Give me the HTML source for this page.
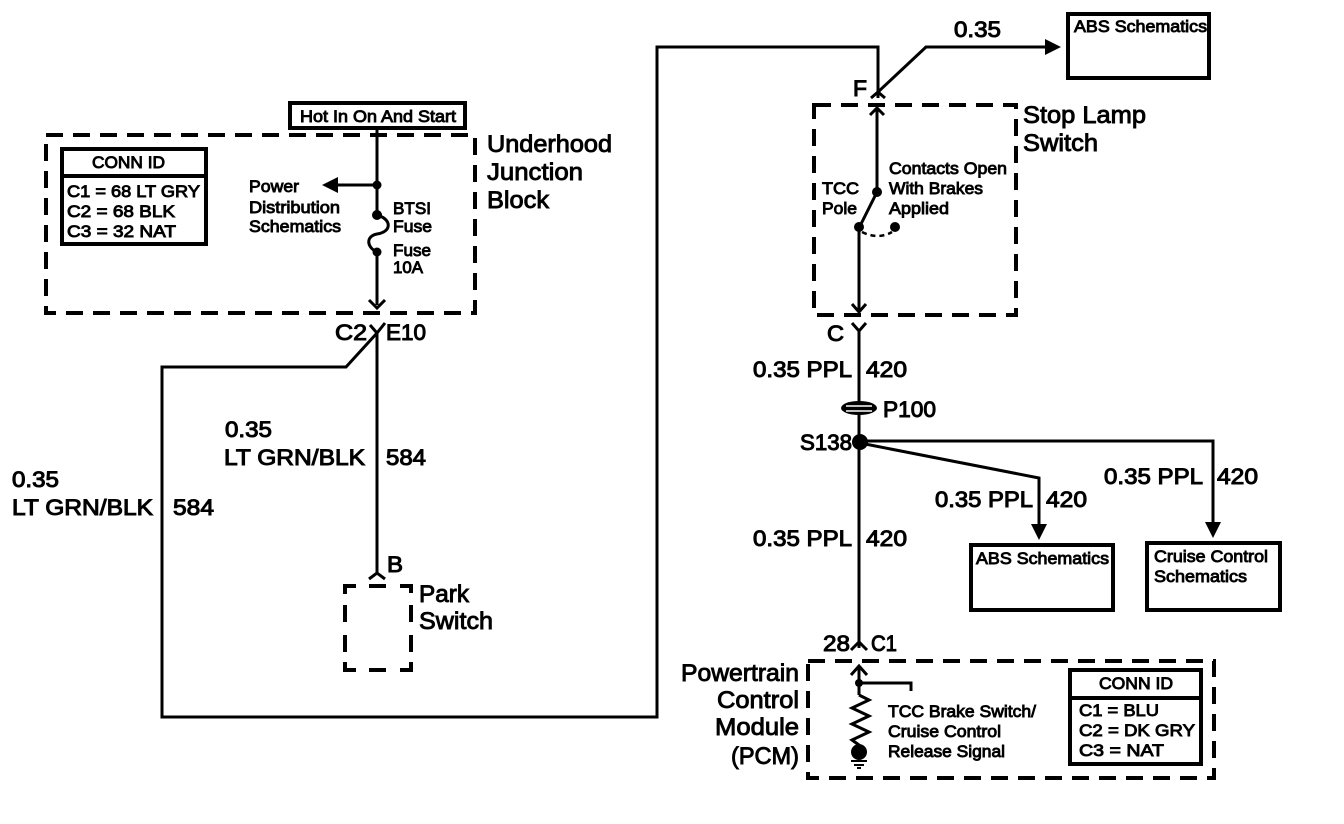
<!DOCTYPE html>
<html><head><meta charset="utf-8"><style>
html,body{margin:0;padding:0;background:#fff}
svg{display:block}
text{font-family:"Liberation Sans",sans-serif;fill:#000;stroke:#000}
.l{font-size:24px;stroke-width:.9px}
.m{font-size:22px;stroke-width:1px}
.s{font-size:17px;stroke-width:.9px}
.w{fill:none;stroke:#000;stroke-width:3}
.b{fill:none;stroke:#000;stroke-width:4}
.d{fill:none;stroke:#000;stroke-width:4;stroke-dasharray:17 10}
.a{fill:#000;stroke:none}
</style></head><body>
<svg width="1344" height="824" viewBox="0 0 1344 824" xmlns="http://www.w3.org/2000/svg">
<!-- dashed boxes -->
<rect class="d" x="46" y="135" width="429" height="178"/>
<rect class="d" x="814" y="105" width="202" height="210"/>
<rect class="d" x="808" y="661" width="406" height="117"/>
<path class="b" d="M356 586H345V594M369 586H386M400 586H411V593M345 605V622M345 635V652M345 662V670H356M369 670H386M400 670H411V662M411 605V622M411 635V652"/>
<!-- solid boxes -->
<rect class="b" x="290" y="103" width="175" height="25"/>
<rect class="b" x="62" y="149" width="144" height="95"/>
<line class="b" x1="62" y1="176" x2="206" y2="176"/>
<rect class="b" x="1068" y="14" width="141" height="64"/>
<rect class="b" x="971" y="545" width="142" height="65"/>
<rect class="b" x="1147" y="543" width="133" height="67"/>
<rect class="b" x="1070" y="670" width="131" height="94"/>
<line class="b" x1="1070" y1="698" x2="1201" y2="698"/>
<!-- underhood wires -->
<path class="w" d="M377 128V214"/>
<path class="w" d="M377 185H335"/>
<polygon class="a" points="322,185 338,177 338,193"/>
<circle class="a" cx="377" cy="185" r="4.5"/>
<circle class="a" cx="377" cy="215" r="5"/>
<circle class="a" cx="377" cy="252" r="4.5"/>
<path class="w" d="M377 215C392 219 392 232 377 234C366 236 366 247 377 252V305"/>
<path class="w" d="M369 300L377 308L385 300"/>
<path class="w" d="M370 325L377 333L385 323M377 333V572"/>
<path class="w" d="M377 333L346 367H162V717H657V47H878V98"/>
<path class="w" d="M369 579L377 573L385 579"/>
<!-- top right wires -->
<path class="w" d="M878 92L926 47H1050"/>
<polygon class="a" points="1061,47 1045,39 1045,55"/>
<path class="w" d="M871 98L878 92L885 98"/>
<path class="w" d="M877 108V192"/>
<path class="w" d="M870 115L877 108L884 115"/>
<circle class="a" cx="877" cy="192" r="5"/>
<path class="w" d="M877 192L860 226"/>
<circle class="a" cx="859" cy="227" r="5"/>
<circle class="a" cx="895" cy="227" r="5"/>
<path d="M862 232Q878 240 892 232" fill="none" stroke="#000" stroke-width="2.5" stroke-dasharray="5 4"/>
<path class="w" d="M859 227V310"/>
<path class="w" d="M852 304L859 312L866 304"/>
<path class="w" d="M852 323L859 331L866 323M859 331V648"/>
<!-- P100 -->
<ellipse cx="859" cy="408" rx="18" ry="7" fill="#000"/>
<line x1="846" y1="406" x2="872" y2="406" stroke="#fff" stroke-width="1.5"/>
<line x1="846" y1="411" x2="872" y2="411" stroke="#fff" stroke-width="1.5"/>
<circle class="a" cx="860" cy="442" r="8"/>
<path class="w" d="M860 441H1213V525"/>
<polygon class="a" points="1213,538 1205,522 1221,522"/>
<path class="w" d="M860 443L1039 478V525"/>
<polygon class="a" points="1039,540 1031,524 1047,524"/>
<!-- PCM -->
<path class="w" d="M851 650L859 642L867 650"/>
<path class="w" d="M859 666V695"/>
<path class="w" d="M851 675L859 666L867 675"/>
<path class="w" d="M859 683H911V691"/>
<circle class="a" cx="859" cy="683" r="4"/>
<path class="w" d="M859 695L869 700L852 708L869 716L852 724L869 732L852 740L859 745"/>
<circle class="a" cx="859" cy="752" r="8"/>
<path d="M851 761H867M854 765H864M857 768H861" stroke="#000" stroke-width="2" fill="none"/>
<!-- small text -->
<text class="s" x="300" y="122" textLength="156" lengthAdjust="spacingAndGlyphs">Hot In On And Start</text>
<text class="s" x="92" y="168" textLength="73" lengthAdjust="spacingAndGlyphs">CONN ID</text>
<text class="s" x="67" y="197" textLength="133" lengthAdjust="spacingAndGlyphs">C1 = 68 LT GRY</text>
<text class="s" x="67" y="217" textLength="108" lengthAdjust="spacingAndGlyphs">C2 = 68 BLK</text>
<text class="s" x="67" y="237" textLength="109" lengthAdjust="spacingAndGlyphs">C3 = 32 NAT</text>
<text class="s" x="249" y="192" textLength="50" lengthAdjust="spacingAndGlyphs">Power</text>
<text class="s" x="249" y="213" textLength="91" lengthAdjust="spacingAndGlyphs">Distribution</text>
<text class="s" x="249" y="232" textLength="92" lengthAdjust="spacingAndGlyphs">Schematics</text>
<text class="s" x="393" y="214" textLength="38" lengthAdjust="spacingAndGlyphs">BTSI</text>
<text class="s" x="393" y="232" textLength="39" lengthAdjust="spacingAndGlyphs">Fuse</text>
<text class="s" x="393" y="256" textLength="38" lengthAdjust="spacingAndGlyphs">Fuse</text>
<text class="s" x="393" y="273" textLength="30" lengthAdjust="spacingAndGlyphs">10A</text>
<text class="s" x="1074" y="32" textLength="133" lengthAdjust="spacingAndGlyphs">ABS Schematics</text>
<text class="s" x="889" y="174" textLength="118" lengthAdjust="spacingAndGlyphs">Contacts Open</text>
<text class="s" x="889" y="194" textLength="94" lengthAdjust="spacingAndGlyphs">With Brakes</text>
<text class="s" x="889" y="214" textLength="60" lengthAdjust="spacingAndGlyphs">Applied</text>
<text class="s" x="822" y="194" textLength="37" lengthAdjust="spacingAndGlyphs">TCC</text>
<text class="s" x="822" y="214" textLength="35" lengthAdjust="spacingAndGlyphs">Pole</text>
<text class="s" x="976" y="564" textLength="133" lengthAdjust="spacingAndGlyphs">ABS Schematics</text>
<text class="s" x="1154" y="562" textLength="114" lengthAdjust="spacingAndGlyphs">Cruise Control</text>
<text class="s" x="1154" y="582" textLength="93" lengthAdjust="spacingAndGlyphs">Schematics</text>
<text class="s" x="888" y="717" textLength="148" lengthAdjust="spacingAndGlyphs">TCC Brake Switch/</text>
<text class="s" x="888" y="737" textLength="113" lengthAdjust="spacingAndGlyphs">Cruise Control</text>
<text class="s" x="888" y="757" textLength="117" lengthAdjust="spacingAndGlyphs">Release Signal</text>
<text class="s" x="1099" y="689" textLength="74" lengthAdjust="spacingAndGlyphs">CONN ID</text>
<text class="s" x="1079" y="716" textLength="80" lengthAdjust="spacingAndGlyphs">C1 = BLU</text>
<text class="s" x="1079" y="736" textLength="116" lengthAdjust="spacingAndGlyphs">C2 = DK GRY</text>
<text class="s" x="1079" y="756" textLength="85" lengthAdjust="spacingAndGlyphs">C3 = NAT</text>
<!-- large text -->
<text class="l" x="487" y="152" textLength="125" lengthAdjust="spacingAndGlyphs">Underhood</text>
<text class="l" x="487" y="180" textLength="96" lengthAdjust="spacingAndGlyphs">Junction</text>
<text class="l" x="487" y="208" textLength="62" lengthAdjust="spacingAndGlyphs">Block</text>
<text class="l" x="1023" y="123" textLength="123" lengthAdjust="spacingAndGlyphs">Stop Lamp</text>
<text class="l" x="1023" y="151" textLength="75" lengthAdjust="spacingAndGlyphs">Switch</text>
<text class="l" x="419" y="602" textLength="50" lengthAdjust="spacingAndGlyphs">Park</text>
<text class="l" x="419" y="629" textLength="74" lengthAdjust="spacingAndGlyphs">Switch</text>
<text class="l" x="681" y="681" textLength="118" lengthAdjust="spacingAndGlyphs">Powertrain</text>
<text class="l" x="717" y="708" textLength="82" lengthAdjust="spacingAndGlyphs">Control</text>
<text class="l" x="715" y="735" textLength="84" lengthAdjust="spacingAndGlyphs">Module</text>
<text class="l" x="731" y="764" textLength="68" lengthAdjust="spacingAndGlyphs">(PCM)</text>
<text class="m" x="335" y="340" textLength="32" lengthAdjust="spacingAndGlyphs">C2</text>
<text class="m" x="386" y="340" textLength="40" lengthAdjust="spacingAndGlyphs">E10</text>
<text class="m" x="225" y="437" textLength="47" lengthAdjust="spacingAndGlyphs">0.35</text>
<text class="m" x="224" y="465" textLength="141" lengthAdjust="spacingAndGlyphs">LT GRN/BLK</text>
<text class="m" x="386" y="465" textLength="40" lengthAdjust="spacingAndGlyphs">584</text>
<text class="m" x="12" y="487" textLength="47" lengthAdjust="spacingAndGlyphs">0.35</text>
<text class="m" x="12" y="515" textLength="141" lengthAdjust="spacingAndGlyphs">LT GRN/BLK</text>
<text class="m" x="173" y="515" textLength="41" lengthAdjust="spacingAndGlyphs">584</text>
<text class="m" x="387" y="572" textLength="16" lengthAdjust="spacingAndGlyphs">B</text>
<text class="m" x="954" y="37" textLength="47" lengthAdjust="spacingAndGlyphs">0.35</text>
<text class="m" x="853" y="96" textLength="14" lengthAdjust="spacingAndGlyphs">F</text>
<text class="m" x="827" y="341" textLength="17" lengthAdjust="spacingAndGlyphs">C</text>
<text class="m" x="753" y="377" textLength="99" lengthAdjust="spacingAndGlyphs">0.35 PPL</text>
<text class="m" x="866" y="377" textLength="41" lengthAdjust="spacingAndGlyphs">420</text>
<text class="m" x="883" y="417" textLength="53" lengthAdjust="spacingAndGlyphs">P100</text>
<text class="m" x="800" y="450" textLength="52" lengthAdjust="spacingAndGlyphs">S138</text>
<text class="m" x="1104" y="484" textLength="99" lengthAdjust="spacingAndGlyphs">0.35 PPL</text>
<text class="m" x="1217" y="484" textLength="41" lengthAdjust="spacingAndGlyphs">420</text>
<text class="m" x="935" y="507" textLength="98" lengthAdjust="spacingAndGlyphs">0.35 PPL</text>
<text class="m" x="1046" y="507" textLength="41" lengthAdjust="spacingAndGlyphs">420</text>
<text class="m" x="753" y="546" textLength="99" lengthAdjust="spacingAndGlyphs">0.35 PPL</text>
<text class="m" x="866" y="546" textLength="41" lengthAdjust="spacingAndGlyphs">420</text>
<text class="m" x="823" y="651" textLength="27" lengthAdjust="spacingAndGlyphs">28</text>
<text class="m" x="871" y="651" textLength="26" lengthAdjust="spacingAndGlyphs">C1</text>
</svg>
</body></html>
